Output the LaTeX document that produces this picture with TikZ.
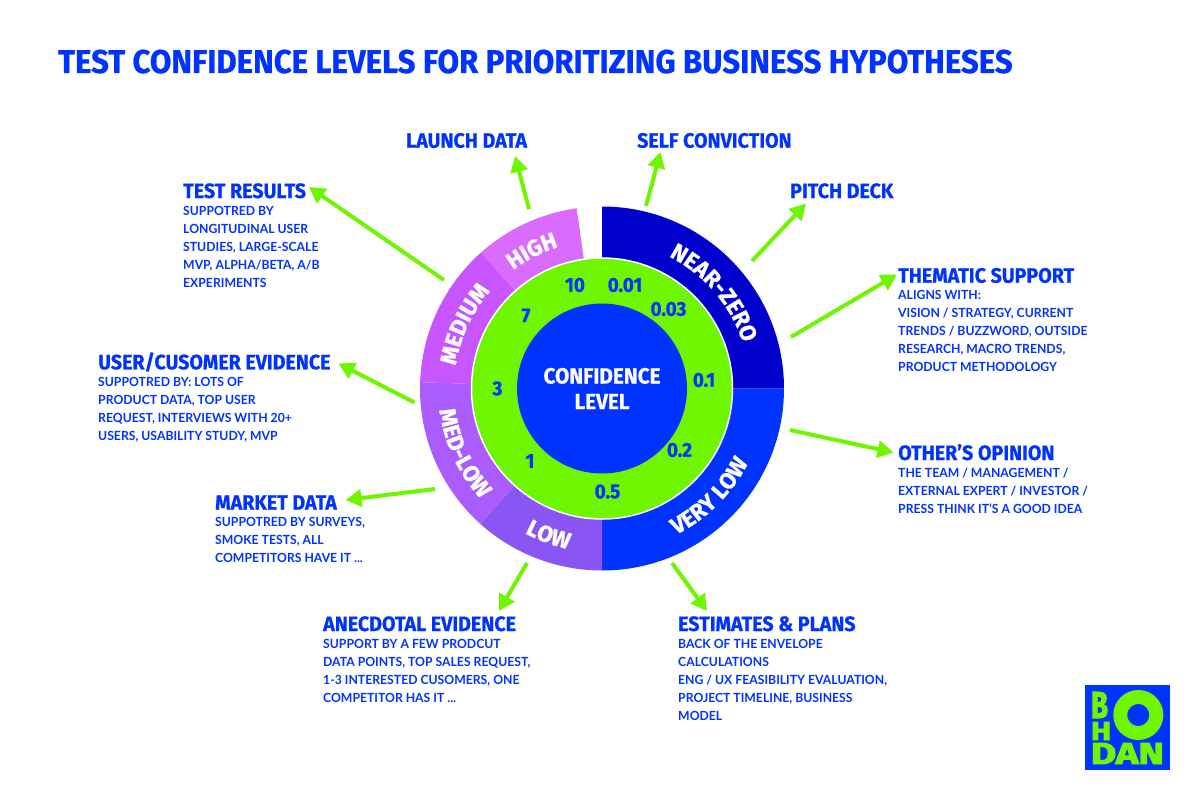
\documentclass[tikz,border=0pt]{standalone}
\usepackage{fontspec}
\setmainfont{Lato}
\newfontfamily\descfont[FakeStretch=0.97,BoldFont={Lato Bold}]{Lato}
\newfontfamily\headfont[FakeStretch=0.945,BoldFont={Fira Sans Bold},BoldFeatures={FakeBold=0.6}]{Fira Sans}
\newfontfamily\ringfont[FakeStretch=0.98,BoldFont={Fira Sans Bold},BoldFeatures={FakeBold=1}]{Fira Sans}
\newfontfamily\logofont[BoldFont={Fira Sans Bold},BoldFeatures={FakeBold=3}]{Fira Sans}
\usetikzlibrary{positioning,arrows.meta,decorations.text}
\definecolor{brandblue}{HTML}{0033FF}
\definecolor{brandgreen}{HTML}{6FF500}
\definecolor{nearzero}{HTML}{0000CC}
\definecolor{lowc}{HTML}{8B55F5}
\definecolor{medlow}{HTML}{AA5CFF}
\definecolor{medium}{HTML}{C855FF}
\definecolor{high}{HTML}{D96BFF}
\newcommand{\sector}[3]{\fill[#1] (ctr) -- ++(#2:182) arc[start angle=#2,end angle=#3,radius=182] -- cycle;}

\begin{document}
\begin{tikzpicture}[x=1pt,y=1pt]
\tikzset{
  heading/.style={inner sep=0pt,anchor=base west,text depth=0pt,text=brandblue,font=\headfont\bfseries\fontsize{20.8}{21}\selectfont},
  desc/.style={inner sep=0pt,align=left,text=brandblue,font=\descfont\bfseries\fontsize{12.6}{18}\selectfont,execute at begin node={\rule{0pt}{10pt}}},
  spoke/.style={draw=brandgreen,line width=4pt,-{Triangle[length=16pt,width=17pt]}},
  scaleval/.style={text=brandblue,inner sep=0pt,font=\headfont\bfseries\fontsize{20}{20}\selectfont},
  ringlbl/.style={decorate,decoration={text along path,text align=center,text={|\ringfont\bfseries\fontsize{23}{23}\selectfont\color{white}|#1}}},
  logotxt/.style={inner sep=0pt,text=brandgreen,font=\logofont\bfseries}
};
\useasboundingbox (0,0) rectangle (1200,-800);
\fill[white] (0,0) rectangle (1200,-800);
\coordinate (ctr) at (602,-388.5);

% title
\node[heading,font=\headfont\bfseries\fontsize{33}{33}\selectfont] (title) at (58,-73) {TEST CONFIDENCE LEVELS FOR PRIORITIZING BUSINESS HYPOTHESES};

% ring
\sector{nearzero}{90}{0}
\sector{brandblue}{0}{-90}
\sector{lowc}{-90}{-132}
\sector{medlow}{-132}{-182}
\sector{medium}{178}{131.6}
\sector{high}{131.6}{98}
\node[circle,fill=brandgreen,draw=white,line width=1.5pt,minimum size=261pt,inner sep=0pt] (scale) at (ctr) {};
\node[circle,fill=brandblue,minimum size=170pt,inner sep=0pt,align=center,text=white,font=\headfont\bfseries\fontsize{22}{25.6}\selectfont] (core) at (ctr) {CONFIDENCE\\LEVEL};

% ring labels
\path[ringlbl=NEAR-ZERO] (ctr) ++(75.5:148) arc[start angle=75.5,end angle=5.5,radius=148];
\path[ringlbl=VERY LOW] (ctr) ++(-80:164) arc[start angle=-80,end angle=-10,radius=164];
\path[ringlbl=LOW] (ctr) ++(225:164) arc[start angle=225,end angle=275,radius=164];
\path[ringlbl=MED-LOW] (ctr) ++(175:164) arc[start angle=175,end angle=235,radius=164];
\path[ringlbl=MEDIUM] (ctr) ++(185:148) arc[start angle=185,end angle=125,radius=148];
\path[ringlbl=HIGH] (ctr) ++(147:148) arc[start angle=147,end angle=87,radius=148];

% scale values
\node[scaleval] (v10) at (575,-285) {10};
\node[scaleval] (v001) at (625,-285) {0.01};
\node[scaleval] (v003) at (668.5,-309) {0.03};
\node[scaleval] (v7) at (526,-315.5) {7};
\node[scaleval] (v01) at (704,-380) {0.1};
\node[scaleval] (v3) at (497.5,-388.5) {3};
\node[scaleval] (v02) at (679.5,-450) {0.2};
\node[scaleval] (v1) at (530,-461) {1};
\node[scaleval] (v05) at (607.5,-491.5) {0.5};

% headings and texts
\node[heading] (launch) at (406,-147.7) {LAUNCH DATA};
\node[heading] (selfc) at (637,-147.7) {SELF CONVICTION};
\node[heading] (pitch) at (790,-198) {PITCH DECK};

\node[heading] (tests) at (183,-198) {TEST RESULTS};
\node[desc] [below=7.6pt of tests.south west,anchor=north west] (testsd) {SUPPOTRED BY\\LONGITUDINAL USER\\STUDIES, LARGE-SCALE\\MVP, ALPHA/BETA, A/B\\EXPERIMENTS};

\node[heading] (theme) at (898,-282.7) {THEMATIC SUPPORT};
\node[desc] [below=7.6pt of theme.south west,anchor=north west] (themed) {ALIGNS WITH:\\VISION / STRATEGY, CURRENT\\TRENDS / BUZZWORD, OUTSIDE\\RESEARCH, MACRO TRENDS,\\PRODUCT METHODOLOGY};

\node[heading] (others) at (898,-460) {OTHER’S OPINION};
\node[desc] [below=7.6pt of others.south west,anchor=north west] (othersd) {THE TEAM / MANAGEMENT /\\EXTERNAL EXPERT / INVESTOR /\\PRESS THINK IT’S A GOOD IDEA};

\node[heading] (user) at (98,-369.3) {USER/CUSOMER EVIDENCE};
\node[desc] [below=7.6pt of user.south west,anchor=north west] (userd) {SUPPOTRED BY: LOTS OF\\PRODUCT DATA, TOP USER\\REQUEST, INTERVIEWS WITH 20+\\USERS, USABILITY STUDY, MVP};

\node[heading] (market) at (215,-509.7) {MARKET DATA};
\node[desc] [below=7.6pt of market.south west,anchor=north west] (marketd) {SUPPOTRED BY SURVEYS,\\SMOKE TESTS, ALL\\COMPETITORS HAVE IT ...};

\node[heading] (anec) at (323,-631) {ANECDOTAL EVIDENCE};
\node[desc] [below=7.6pt of anec.south west,anchor=north west] (anecd) {SUPPORT BY A FEW PRODCUT\\DATA POINTS, TOP SALES REQUEST,\\1-3 INTERESTED CUSOMERS, ONE\\COMPETITOR HAS IT ...};

\node[heading] (plans) at (678,-631) {ESTIMATES \& PLANS};
\node[desc] [below=7.6pt of plans.south west,anchor=north west] (plansd) {BACK OF THE ENVELOPE\\CALCULATIONS\\ENG / UX FEASIBILITY EVALUATION,\\PROJECT TIMELINE, BUSINESS\\MODEL};

% arrows
\foreach \nm/\ax/\ay/\bx/\by in {tests/444/280/309/187,launch/529/209/515/156,selfc/646/206/660.5/152,pitch/752/261/806/203.5,theme/791/337/897/274.5,others/790/430/893.5/452.5,plans/672/563/707/611,anec/527/563/499/611,market/435/489/345.5/500,user/414.5/402.5/338.5/363.5}
{
  \coordinate (\nm-tail) at (\ax,-\ay);
  \coordinate (\nm-tip) at (\bx,-\by);
  \draw[spoke] (\nm-tail) -- (\nm-tip);
}

% logo
\node[fill=brandblue,minimum size=85pt,inner sep=0pt] (logo) at (1127.5,-727.5) {};
\draw[brandgreen,line width=14pt] (1138.3,-715) circle[radius=18pt];
\node[logotxt] (logoB) at (1099.5,-705) {\resizebox{17pt}{26pt}{B}};
\node[logotxt] (logoH) at (1101,-731) {\resizebox{20pt}{18pt}{H}};
\node[logotxt] (logoD) at (1127.5,-753.5) {\resizebox{73pt}{21pt}{DAN}};
\end{tikzpicture}
\end{document}
